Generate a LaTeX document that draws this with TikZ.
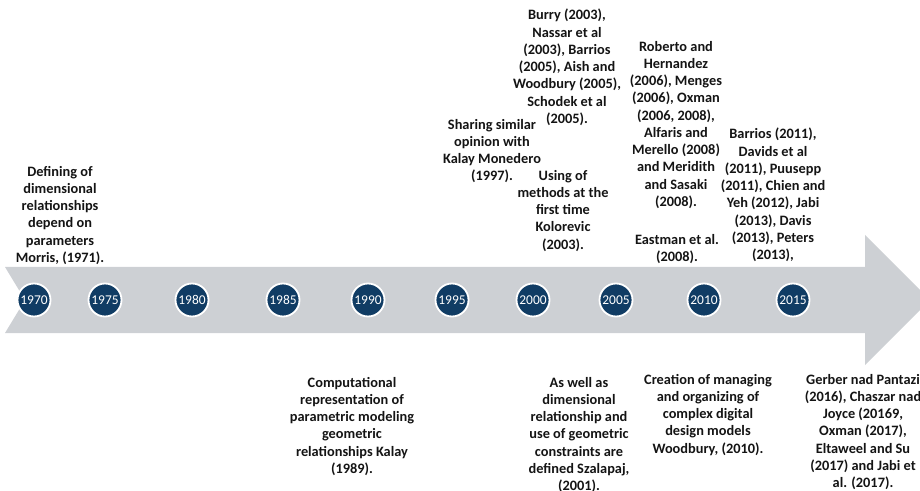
\documentclass[tikz,border=0pt]{standalone}
\usepackage{fontspec}
\setmainfont{Carlito}
\definecolor{bandgray}{RGB}{205,208,212}
\definecolor{yearblue}{RGB}{16,60,100}
\definecolor{inkblack}{RGB}{20,20,20}
\begin{document}
\begin{tikzpicture}[x=1bp,y=-1bp,
  note/.style={align=center, inner sep=0pt, anchor=north, text=inkblack,
    font=\fontsize{14.4}{17.3}\selectfont\bfseries},
  year/.style={circle, fill=yearblue, draw=white, line width=1.8bp,
    minimum size=33bp, inner sep=0pt, text=white,
    font=\fontsize{13.5}{15}\selectfont}]
\useasboundingbox (0,0) rectangle (920,491);

% timeline band with notched tail and arrow head
\fill[bandgray] (5,267) -- (865,267) -- (865,235) -- (930,300) -- (865,365)
  -- (865,333) -- (5,333) -- (25,300) -- cycle;

% year markers
\node[year] (y1970) at (34,300)  {1970};
\node[year] (y1975) at (105,300) {1975};
\node[year] (y1980) at (192,300) {1980};
\node[year] (y1985) at (283,300) {1985};
\node[year] (y1990) at (368,300) {1990};
\node[year] (y1995) at (452,300) {1995};
\node[year] (y2000) at (533,300) {2000};
\node[year] (y2005) at (616,300) {2005};
\node[year] (y2010) at (704,300) {2010};
\node[year] (y2015) at (793,300) {2015};

% notes above the band
\node[note] (morris) at (60,166) {Defining of\\dimensional\\relationships\\depend on\\parameters\\Morris, (1971).};
\node[note] (burry) at (567,9) {Burry (2003),\\Nassar et al\\(2003), Barrios\\(2005), Aish and\\Woodbury (2005),\\Schodek et al\\(2005).};
\node[note] (sharing) at (492,119) {Sharing similar\\opinion with\\Kalay Monedero\\(1997).};
\node[note] (using) at (563,170) {Using of\\methods at the\\first time\\Kolorevic\\(2003).};
\node[note] (roberto) at (676,41) {Roberto and\\Hernandez\\(2006), Menges\\(2006), Oxman\\(2006, 2008),\\Alfaris and\\Merello (2008)\\and Meridith\\and Sasaki\\(2008).};
\node[note] (eastman) at (677,234) {Eastman et al.\\(2008).};
\node[note] (barrios) at (773,128) {Barrios (2011),\\Davids et al\\(2011), Puusepp\\(2011), Chien and\\Yeh (2012), Jabi\\(2013), Davis\\(2013), Peters\\(2013),};

% notes below the band
\node[note] (kalay) at (352,377) {Computational\\representation of\\parametric modeling\\geometric\\relationships Kalay\\(1989).};
\node[note] (szalapaj) at (579,377) {As well as\\dimensional\\relationship and\\use of geometric\\constraints are\\defined Szalapaj,\\(2001).};
\node[note] (woodbury) at (708,374) {Creation of managing\\and organizing of\\complex digital\\design models\\Woodbury, (2010).};
\node[note] (gerber) at (863,374) {Gerber nad Pantazi\\(2016), Chaszar nad\\Joyce (20169,\\Oxman (2017),\\Eltaweel and Su\\(2017) and Jabi et\\al. (2017).};
\end{tikzpicture}
\end{document}
